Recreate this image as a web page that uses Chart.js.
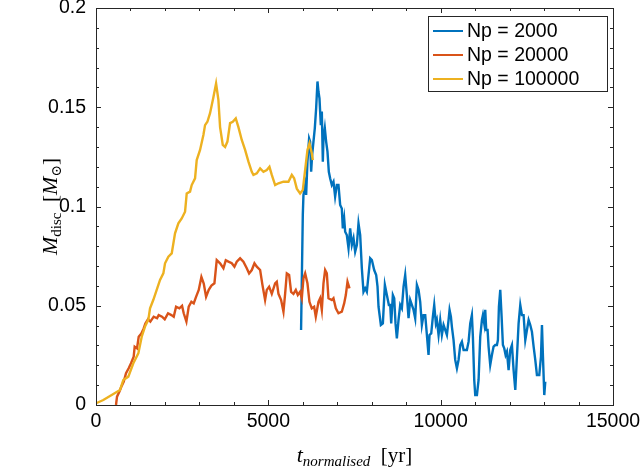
<!DOCTYPE html>
<html>
<head>
<meta charset="utf-8">
<script src="https://cdn.jsdelivr.net/npm/chart.js@4/dist/chart.umd.min.js"></script>
<style>
  body { margin: 0; background: #fff; }
  canvas { display: block; }
</style>
</head>
<body>
<canvas id="myChart" width="641" height="474"></canvas>
<script>
// data block
const seriesLabels = ['Np = 2000', 'Np = 20000', 'Np = 100000'];
const seriesColors = ['#0072BD', '#D95319', '#EDB120'];

const xTicks = [0, 5000, 10000, 15000];
const yTicks = [0, 0.05, 0.1, 0.15, 0.2];

// Np = 2000
const t2k = [5950, 6000, 6019, 6038, 6068, 6097, 6135, 6183, 6213, 6242, 6271, 6300, 6348, 6387, 6426, 6455, 6484, 6523, 6552, 6581,
    6600, 6639, 6677, 6716, 6755, 6793, 6842, 6890, 6938, 6987, 7035, 7084, 7132, 7161, 7200, 7229, 7277, 7326, 7374, 7423,
    7471, 7519, 7568, 7616, 7665, 7713, 7761, 7810, 7858, 7907, 7955, 8004, 8071, 8129, 8168, 8197, 8265, 8323, 8381, 8439,
    8497, 8536, 8565, 8613, 8652, 8690, 8729, 8777, 8826, 8874, 8923, 8971, 9019, 9068, 9116, 9164, 9213, 9261, 9310, 9358,
    9406, 9455, 9503, 9552, 9600, 9648, 9677, 9726, 9774, 9813, 9861, 9890, 9939, 9987, 10035, 10084, 10132, 10181, 10229, 10258,
    10297, 10326, 10374, 10422, 10471, 10519, 10568, 10616, 10665, 10761, 10810, 10858, 10906, 10935, 10974, 11003, 11052, 11100, 11148, 11197,
    11226, 11264, 11293, 11322, 11361, 11390, 11438, 11487, 11535, 11584, 11632, 11661, 11690, 11729, 11768, 11806, 11845, 11884, 11923, 11971,
    12019, 12068, 12116, 12165, 12213, 12261, 12310, 12358, 12406, 12455, 12503, 12552, 12600, 12648, 12697, 12745, 12793, 12861, 12910, 12939,
    12968, 13006, 13035];
const m2k = [0.0378, 0.0957, 0.1058, 0.1075, 0.1108, 0.1058, 0.1226, 0.1343, 0.1327, 0.1175, 0.126, 0.131, 0.1394, 0.1494, 0.163, 0.1578, 0.1545, 0.141, 0.1478, 0.1226,
    0.1343, 0.1394, 0.1327, 0.1276, 0.1175, 0.1142, 0.1108, 0.1125, 0.105, 0.1108, 0.1108, 0.1008, 0.099, 0.089, 0.094, 0.0873, 0.0856, 0.079, 0.089, 0.0806,
    0.084, 0.0772, 0.0806, 0.0915, 0.0856, 0.0689, 0.057, 0.0588, 0.057, 0.0655, 0.0739, 0.073, 0.068, 0.0655, 0.0596, 0.0495, 0.0403, 0.0411, 0.0605, 0.0554,
    0.0504, 0.0504, 0.0411, 0.0554, 0.0538, 0.0411, 0.0336, 0.0428, 0.0504, 0.0487, 0.0596, 0.0655, 0.0554, 0.0437, 0.0529, 0.0504, 0.0479, 0.0437, 0.0605, 0.058,
    0.052, 0.0403, 0.0453, 0.0453, 0.0353, 0.0252, 0.0353, 0.0361, 0.0445, 0.0504, 0.0411, 0.0428, 0.0353, 0.0428, 0.0353, 0.0403, 0.0378, 0.0353, 0.0428, 0.0479,
    0.0445, 0.0394, 0.0327, 0.0227, 0.0185, 0.0227, 0.0302, 0.0319, 0.0277, 0.0277, 0.0319, 0.0411, 0.0453, 0.0344, 0.0126, 0.005, 0.005, 0.0126, 0.0344, 0.0428,
    0.0453, 0.0411, 0.0479, 0.0378, 0.0378, 0.0294, 0.0202, 0.0252, 0.0294, 0.0302, 0.0302, 0.0327, 0.0495, 0.058, 0.0445, 0.0302, 0.0285, 0.0252, 0.0269, 0.0176,
    0.0277, 0.0302, 0.0176, 0.0076, 0.0243, 0.0411, 0.0504, 0.0453, 0.0453, 0.0327, 0.0378, 0.0428, 0.0403, 0.0369, 0.0294, 0.0227, 0.0151, 0.0151, 0.0243, 0.0403,
    0.0243, 0.005, 0.0117];

// Np = 20000
const t20k = [580, 610, 677, 735, 803, 871, 948, 1016, 1093, 1122, 1190, 1239, 1316, 1384, 1432, 1510, 1577, 1674, 1771, 1819,
    1916, 1994, 2090, 2187, 2255, 2323, 2419, 2497, 2545, 2623, 2690, 2768, 2835, 2903, 2981, 3058, 3126, 3194, 3271, 3349,
    3436, 3503, 3600, 3697, 3765, 3842, 3939, 4016, 4084, 4181, 4277, 4374, 4442, 4520, 4597, 4665, 4762, 4829, 4906, 4955,
    5023, 5100, 5197, 5245, 5294, 5371, 5439, 5487, 5536, 5603, 5661, 5729, 5797, 5855, 5922, 5971, 6019, 6068, 6135, 6193,
    6261, 6329, 6377, 6455, 6503, 6552, 6600, 6648, 6697, 6745, 6842, 6890, 6958, 7035, 7132, 7200, 7248, 7297, 7355];
const m20k = [0, 0.0042, 0.0067, 0.0092, 0.0117, 0.016, 0.0185, 0.021, 0.0243, 0.0294, 0.0285, 0.0344, 0.036, 0.0386, 0.041, 0.0432, 0.042, 0.0445, 0.0437, 0.0453,
    0.0445, 0.0432, 0.0462, 0.0453, 0.0445, 0.0495, 0.0487, 0.05, 0.0462, 0.042, 0.0495, 0.052, 0.0512, 0.0545, 0.058, 0.0645, 0.0612, 0.0545, 0.058, 0.0602,
    0.0613, 0.073, 0.0714, 0.0689, 0.0729, 0.0722, 0.0714, 0.0697, 0.0722, 0.0739, 0.0722, 0.0689, 0.0663, 0.068, 0.0714, 0.0697, 0.068, 0.0605, 0.0529, 0.058,
    0.0596, 0.056, 0.0613, 0.0621, 0.056, 0.0529, 0.047, 0.056, 0.0663, 0.0655, 0.057, 0.056, 0.058, 0.0554, 0.057, 0.0538, 0.0638, 0.0663, 0.0613, 0.052,
    0.0487, 0.0495, 0.0445, 0.052, 0.0538, 0.0479, 0.0613, 0.068, 0.0663, 0.0538, 0.0529, 0.0538, 0.0487, 0.0462, 0.047, 0.0512, 0.0554, 0.0621, 0.0588];

// Np = 100000
const t100k = [20, 212, 455, 697, 793, 938, 1083, 1228, 1326, 1422, 1519, 1568, 1664, 1761, 1858, 1954, 2003, 2100, 2197, 2293,
    2390, 2487, 2584, 2632, 2729, 2777, 2874, 2922, 3019, 3116, 3164, 3232, 3309, 3406, 3484, 3551, 3600, 3678, 3745, 3813,
    3890, 3968, 4055, 4132, 4229, 4326, 4423, 4520, 4568, 4665, 4762, 4858, 4955, 5032, 5100, 5197, 5294, 5439, 5584, 5681,
    5748, 5826, 5922, 6000, 6068, 6135, 6193, 6261, 6290];
const m100k = [0.001, 0.0025, 0.005, 0.0076, 0.0126, 0.0143, 0.021, 0.026, 0.0344, 0.0395, 0.043, 0.0487, 0.053, 0.058, 0.063, 0.0663, 0.0714, 0.0747, 0.0764, 0.0865,
    0.0915, 0.094, 0.0974, 0.1066, 0.1075, 0.1108, 0.1142, 0.1234, 0.1285, 0.136, 0.141, 0.1427, 0.147, 0.155, 0.162, 0.1537, 0.14, 0.131, 0.13, 0.1327,
    0.142, 0.1427, 0.1444, 0.14, 0.1335, 0.1285, 0.1226, 0.1175, 0.1159, 0.1167, 0.1192, 0.1175, 0.1184, 0.12, 0.1159, 0.1108, 0.1117, 0.1125, 0.1125, 0.1159,
    0.1142, 0.109, 0.1066, 0.1083, 0.1184, 0.1285, 0.1318, 0.1268, 0.1234];

function toPoints(xs, ys) {
    return xs.map(function (x, i) { return { x: x, y: ys[i] }; });
}

const seriesX = [t2k, t20k, t100k];
const seriesY = [m2k, m20k, m100k];

const data = {
    datasets: seriesLabels.map(function (label, i) {
        return {
            label: label,
            data: toPoints(seriesX[i], seriesY[i]),
            borderColor: seriesColors[i],
            backgroundColor: seriesColors[i],
            borderWidth: 2.4,
            pointRadius: 0,
            tension: 0,
            // later series sit on top
            order: seriesLabels.length - i
        };
    })
};

const axisColor = '#262626';
const sansFamily = 'Liberation Sans, Arial, sans-serif';
const tickFont = { family: sansFamily, size: 19.5 };

// box with inward ticks, legend and LaTeX-like axis titles
const decorPlugin = {
    id: 'decor',
    afterDraw: function (chart) {
        const ctx = chart.ctx;
        const a = chart.chartArea;
        const xs = chart.scales.x;
        const ys = chart.scales.y;
        ctx.save();
        ctx.strokeStyle = axisColor;
        ctx.lineWidth = 1;
        ctx.beginPath();
        for (let v = 0; v <= 15000; v += 1000) {
            const px = Math.round(xs.getPixelForValue(v)) + 0.5;
            const len = (v % 5000 === 0) ? 5 : 3;
            ctx.moveTo(px, a.bottom); ctx.lineTo(px, a.bottom - len);
            ctx.moveTo(px, a.top); ctx.lineTo(px, a.top + len);
        }
        for (let k = 0; k <= 20; k++) {
            const py = Math.round(ys.getPixelForValue(k / 100)) + 0.5;
            const len = (k % 5 === 0) ? 5 : 3;
            ctx.moveTo(a.left, py); ctx.lineTo(a.left + len, py);
            ctx.moveTo(a.right, py); ctx.lineTo(a.right - len, py);
        }
        ctx.stroke();
        ctx.strokeRect(Math.round(a.left) + 0.5, Math.round(a.top) + 0.5,
            Math.round(a.right - a.left), Math.round(a.bottom - a.top));

        // legend
        const lx = 428, ly = 16, lw = 179, lh = 75;
        ctx.fillStyle = '#fff';
        ctx.fillRect(lx, ly, lw, lh);
        ctx.strokeRect(lx + 0.5, ly + 0.5, lw, lh);
        ctx.font = '19.5px ' + sansFamily;
        ctx.textBaseline = 'middle';
        ctx.textAlign = 'left';
        seriesLabels.forEach(function (label, i) {
            const cy = ly + 15 + i * 24;
            ctx.strokeStyle = seriesColors[i];
            ctx.lineWidth = 2;
            ctx.beginPath();
            ctx.moveTo(lx + 5, cy); ctx.lineTo(lx + 35, cy);
            ctx.stroke();
            ctx.fillStyle = '#000';
            ctx.fillText(label, lx + 39, cy + 1);
        });

        // axis titles
        const serif = 'Liberation Serif, DejaVu Serif, serif';
        const xParts = [
            { t: 't', f: 'italic 22px ' + serif, dy: 0 },
            { t: 'normalised', f: 'italic 15px ' + serif, dy: 4 },
            { t: '  [yr]', f: '21px ' + serif, dy: 0 }
        ];
        const yParts = [
            { t: 'M', f: 'italic 22px ' + serif, dy: 0 },
            { t: 'disc', f: '15px ' + serif, dy: 4 },
            { t: '  [', f: '21px ' + serif, dy: 0 },
            { t: 'M', f: 'italic 22px ' + serif, dy: 0 },
            { t: '\u2299', f: '14px DejaVu Serif, serif', dy: 4 },
            { t: ']', f: '21px ' + serif, dy: 0 }
        ];
        function drawParts(parts, cx, baseY) {
            let w = 0;
            parts.forEach(function (p) { ctx.font = p.f; p.w = ctx.measureText(p.t).width; w += p.w; });
            let x = cx - w / 2;
            ctx.fillStyle = '#000';
            ctx.textAlign = 'left';
            ctx.textBaseline = 'alphabetic';
            parts.forEach(function (p) {
                ctx.font = p.f;
                ctx.fillText(p.t, x, baseY + p.dy);
                x += p.w;
            });
        }
        drawParts(xParts, (a.left + a.right) / 2, 462);
        ctx.translate(57, (a.top + a.bottom) / 2);
        ctx.rotate(-Math.PI / 2);
        drawParts(yParts, 0, 0);
        ctx.restore();
    }
};

//config block
const config = {
    type: 'line',
    data: data,
    options: {
        responsive: false,
        animation: false,
        devicePixelRatio: 1,
        layout: { padding: { top: 8, right: 28, left: 0, bottom: 0 } },
        plugins: { legend: { display: false }, tooltip: { enabled: false } },
        scales: {
            x: {
                type: 'linear',
                min: 0,
                max: 15000,
                afterFit: function (s) { s.height = 69; s.paddingLeft = 0; s.paddingRight = 0; },
                afterBuildTicks: function (s) { s.ticks = xTicks.map(function (v) { return { value: v }; }); },
                grid: { display: false, drawTicks: false },
                border: { display: false },
                ticks: {
                    color: '#000',
                    font: tickFont,
                    padding: 5,
                    maxRotation: 0,
                    callback: function (v) { return String(v); }
                }
            },
            y: {
                min: 0,
                max: 0.2,
                afterFit: function (s) { s.width = 96; s.paddingTop = 0; s.paddingBottom = 0; },
                afterBuildTicks: function (s) { s.ticks = yTicks.map(function (v) { return { value: v }; }); },
                grid: { display: false, drawTicks: false },
                border: { display: false },
                ticks: {
                    color: '#000',
                    font: tickFont,
                    padding: 10,
                    callback: function (v) { return String(Math.round(v * 100) / 100); }
                }
            }
        }
    },
    plugins: [decorPlugin]
};

//render block
const myChart = new Chart(document.getElementById('myChart'), config);
</script>
</body>
</html>
